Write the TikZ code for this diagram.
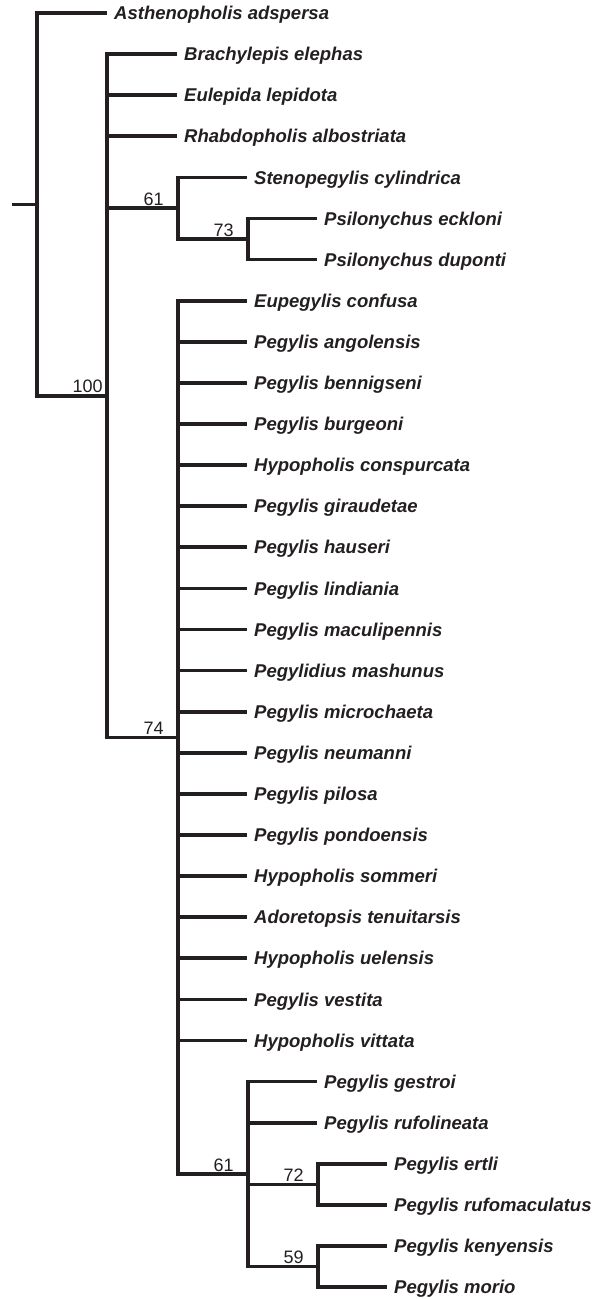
\documentclass[tikz,border=0pt]{standalone}
\usepackage{fontspec}
\setmainfont{Liberation Sans}
\definecolor{ink}{RGB}{35,31,32}
\begin{document}
\begin{tikzpicture}[x=1pt,y=-1pt,
  br/.style={line width=3.7pt, draw=ink, line join=miter},
  taxon/.style={anchor=base west, inner sep=0pt, text=ink, font=\fontsize{18.5}{20}\selectfont\bfseries\itshape},
  supp/.style={anchor=base west, inner sep=0pt, text=ink, font=\fontsize{18}{20}\selectfont}]
\useasboundingbox (0,0) rectangle (594,1299);
% internal nodes
\coordinate (stub) at (12,204.4);
\coordinate (root) at (37,204.4);
\coordinate (n100) at (107,395.75);
\coordinate (n61a) at (178,208.2);
\coordinate (n73) at (248,239.05);
\coordinate (n74) at (178,737.4);
\coordinate (n61b) at (248,1174.1);
\coordinate (n72) at (318,1184.35);
\coordinate (n59) at (318,1266.55);
% tips
\coordinate (t0) at (107,13);
\coordinate (t1) at (177,54.1);
\coordinate (t2) at (177,95.2);
\coordinate (t3) at (177,136.3);
\coordinate (t4) at (247,177.4);
\coordinate (t5) at (317,218.5);
\coordinate (t6) at (317,259.6);
\coordinate (t7) at (247,300.7);
\coordinate (t8) at (247,341.8);
\coordinate (t9) at (247,382.9);
\coordinate (t10) at (247,424);
\coordinate (t11) at (247,465.1);
\coordinate (t12) at (247,506.2);
\coordinate (t13) at (247,547.3);
\coordinate (t14) at (247,588.4);
\coordinate (t15) at (247,629.5);
\coordinate (t16) at (247,670.6);
\coordinate (t17) at (247,711.7);
\coordinate (t18) at (247,752.8);
\coordinate (t19) at (247,793.9);
\coordinate (t20) at (247,835);
\coordinate (t21) at (247,876.1);
\coordinate (t22) at (247,917.2);
\coordinate (t23) at (247,958.3);
\coordinate (t24) at (247,999.4);
\coordinate (t25) at (247,1040.5);
\coordinate (t26) at (317,1081.6);
\coordinate (t27) at (317,1122.7);
\coordinate (t28) at (387,1163.8);
\coordinate (t29) at (387,1204.9);
\coordinate (t30) at (387,1246);
\coordinate (t31) at (387,1287.1);
% branches
\draw[br] (stub) -- (root);
\draw[br] (root) |- (t0);
\draw[br] (root) |- (n100);
\foreach \c in {t1,t2,t3,n61a,n74} \draw[br] (n100) |- (\c);
\draw[br] (n61a) |- (t4);
\draw[br] (n61a) |- (n73);
\draw[br] (n73) |- (t5);
\draw[br] (n73) |- (t6);
\foreach \c in {t7,t8,t9,t10,t11,t12,t13,t14,t15,t16,t17,t18,t19,t20,t21,t22,t23,t24,t25,n61b} \draw[br] (n74) |- (\c);
\foreach \c in {t26,t27,n72,n59} \draw[br] (n61b) |- (\c);
\draw[br] (n72) |- (t28);
\draw[br] (n72) |- (t29);
\draw[br] (n59) |- (t30);
\draw[br] (n59) |- (t31);
% taxon labels
\foreach \i/\name in {0/Asthenopholis adspersa,1/Brachylepis elephas,2/Eulepida lepidota,3/Rhabdopholis albostriata,4/Stenopegylis cylindrica,5/Psilonychus eckloni,6/Psilonychus duponti,7/Eupegylis confusa,8/Pegylis angolensis,9/Pegylis bennigseni,10/Pegylis burgeoni,11/Hypopholis conspurcata,12/Pegylis giraudetae,13/Pegylis hauseri,14/Pegylis lindiania,15/Pegylis maculipennis,16/Pegylidius mashunus,17/Pegylis microchaeta,18/Pegylis neumanni,19/Pegylis pilosa,20/Pegylis pondoensis,21/Hypopholis sommeri,22/Adoretopsis tenuitarsis,23/Hypopholis uelensis,24/Pegylis vestita,25/Hypopholis vittata,26/Pegylis gestroi,27/Pegylis rufolineata,28/Pegylis ertli,29/Pegylis rufomaculatus,30/Pegylis kenyensis,31/Pegylis morio}
  \node[taxon] (l\i) at ([xshift=7pt,yshift=-6.6pt]t\i) {\name};
% support values
\node[supp] (s100) at ([xshift=-34.5pt,yshift=3pt]n100) {100};
\node[supp] (s61a) at ([xshift=-34.5pt,yshift=3pt]n61a) {61};
\node[supp] (s73) at ([xshift=-34.5pt,yshift=3pt]n73) {73};
\node[supp] (s74) at ([xshift=-34.5pt,yshift=3pt]n74) {74};
\node[supp] (s61b) at ([xshift=-34.5pt,yshift=3pt]n61b) {61};
\node[supp] (s72) at ([xshift=-34.5pt,yshift=3pt]n72) {72};
\node[supp] (s59) at ([xshift=-34.5pt,yshift=3pt]n59) {59};
\end{tikzpicture}
\end{document}
